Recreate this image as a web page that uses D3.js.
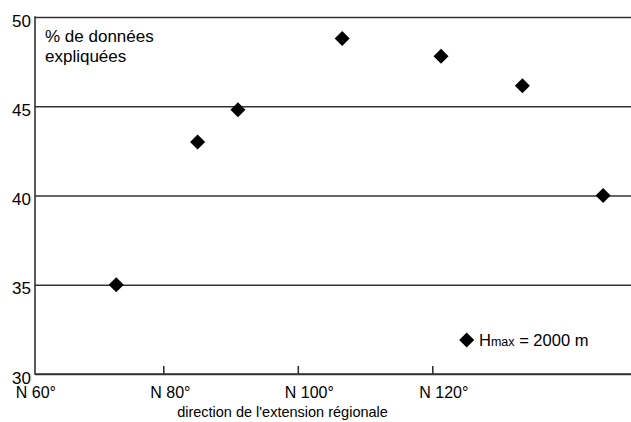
<!DOCTYPE html>
<html>
<head>
<meta charset="utf-8">
<script src="https://cdn.jsdelivr.net/npm/d3@7"></script>
<style>
  html, body { margin: 0; padding: 0; background: #fff; }
  svg { display: block; font-family: "Liberation Sans", Arial, sans-serif; }
</style>
</head>
<body>
<svg id="chart" width="631" height="422"></svg>
<script>
// ---- data ----
const directions = [73.0, 85.1, 91.1, 106.6, 121.3, 133.4, 145.4];
const percentages = [35.0, 43.0, 44.8, 48.8, 47.8, 46.15, 40.0];
const xTickValues = [60, 80, 100, 120];
const xTickLabels = ["N 60°", "N 80°", "N 100°", "N 120°"];
const yTickValues = [30, 35, 40, 45, 50];
const annotationLines = ["% de données", "expliquées"];
const xTitle = "direction de l'extension régionale";
const legendLabel = { main: "H", sub: "max", rest: " = 2000 m" };

(function () {
  // ---- layout ----
  const mLeft = 35, mRight = 631, mTop = 17, mBottom = 374;
  const lineColor = "#333";

  const svg = d3.select("#chart");

  const x = d3.scaleLinear().domain([60, 120]).range([28.8, 432.3]);
  const y = d3.scaleLinear().domain([30, 50]).range([mBottom, mTop]);

  // gridlines + y labels
  const yAxis = d3.axisLeft(y)
    .tickValues(yTickValues)
    .tickSize(-(mRight - mLeft))
    .tickPadding(4)
    .tickFormat(d3.format("d"));

  const gy = svg.append("g").attr("transform", `translate(${mLeft},0)`).call(yAxis);
  gy.select(".domain").remove();
  gy.selectAll(".tick line").attr("stroke", lineColor).attr("stroke-width", 1.6);
  gy.selectAll(".tick text")
    .attr("fill", "#000")
    .attr("font-size", 17)
    .attr("font-family", "Liberation Sans, Arial, sans-serif")
    .attr("dy", "0.54em");

  // x axis
  const xAxis = d3.axisBottom(x)
    .tickValues(xTickValues)
    .tickSize(-8)
    .tickFormat((d, i) => xTickLabels[i]);

  const gx = svg.append("g").attr("transform", `translate(0,${mBottom})`).call(xAxis);
  gx.select(".domain").remove();
  gx.selectAll(".tick line")
    .attr("stroke", lineColor)
    .attr("stroke-width", 1.6)
    .attr("display", d => d === 60 ? "none" : null);
  gx.selectAll(".tick text")
    .attr("fill", "#000")
    .attr("font-size", 16)
    .attr("font-family", "Liberation Sans, Arial, sans-serif")
    .attr("text-anchor", "start")
    .attr("x", -13.5)
    .attr("y", 24)
    .attr("dy", 0);

  // frame lines: left axis and bottom axis
  svg.append("line")
    .attr("x1", mLeft).attr("x2", mLeft)
    .attr("y1", y(50) - 0.8).attr("y2", y(30) + 0.8)
    .attr("stroke", lineColor).attr("stroke-width", 1.6);
  svg.append("line")
    .attr("x1", mLeft).attr("x2", mRight)
    .attr("y1", y(30)).attr("y2", y(30))
    .attr("stroke", lineColor).attr("stroke-width", 1.6);

  // points
  const diamond = d3.symbol().type(d3.symbolSquare).size(113);
  svg.append("g").selectAll("path")
    .data(directions.map((d, i) => ({ dir: d, pct: percentages[i] })))
    .join("path")
    .attr("d", diamond)
    .attr("fill", "#000")
    .attr("transform", d => `translate(${x(d.dir)},${y(d.pct)}) rotate(45)`);

  // annotation
  const ann = svg.append("text")
    .attr("x", 45).attr("y", 41.7)
    .attr("font-size", 17).attr("fill", "#000");
  annotationLines.forEach((t, i) => {
    ann.append("tspan").attr("x", 45).attr("dy", i === 0 ? 0 : 20).text(t);
  });

  // x title
  svg.append("text")
    .attr("x", 282.5).attr("y", 417.3)
    .attr("text-anchor", "middle")
    .attr("font-size", 14.5).attr("fill", "#000")
    .text(xTitle);

  // legend
  svg.append("path")
    .attr("d", diamond)
    .attr("fill", "#000")
    .attr("transform", "translate(466.7,340) rotate(45)");
  const lg = svg.append("text")
    .attr("x", 479).attr("y", 345.7)
    .attr("fill", "#000").attr("font-size", 16.5);
  lg.append("tspan").text(legendLabel.main);
  lg.append("tspan").attr("font-size", 12.5).text(legendLabel.sub);
  lg.append("tspan").text(legendLabel.rest);
})();
</script>
</body>
</html>
